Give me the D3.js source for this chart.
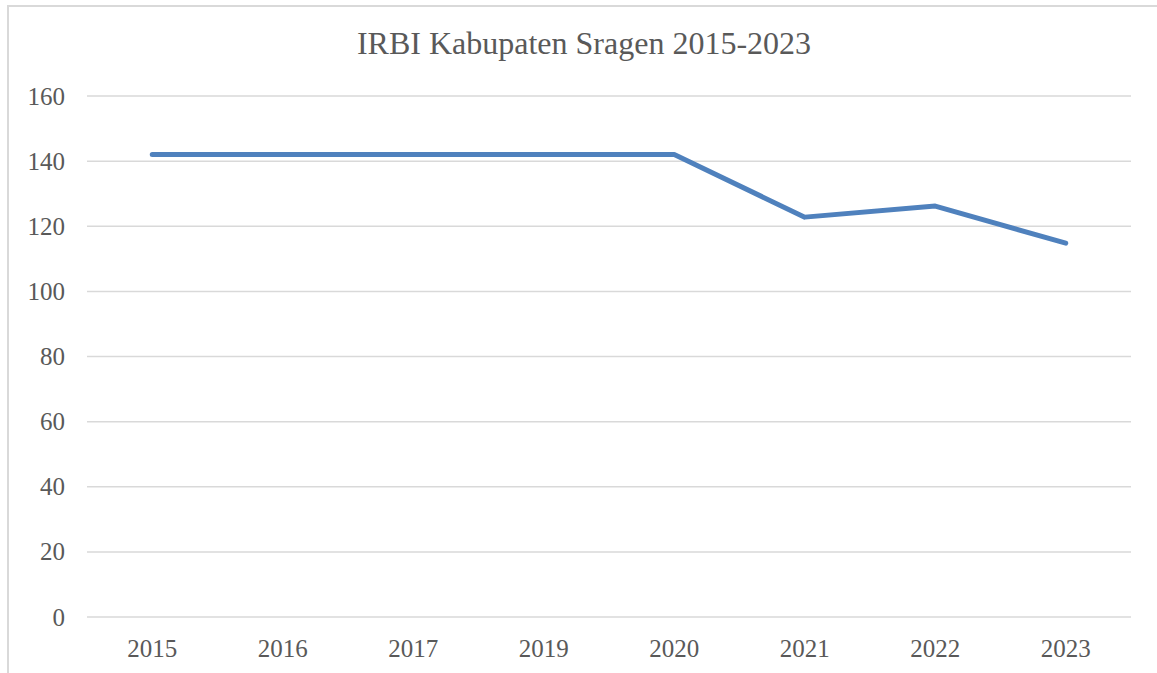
<!DOCTYPE html>
<html>
<head>
<meta charset="utf-8">
<script src="https://cdn.jsdelivr.net/npm/d3@7"></script>
<style>
  body { margin: 0; background: #fff; }
  svg { display: block; }
</style>
</head>
<body>
<svg id="chart"></svg>
<script>
var years = ["2015", "2016", "2017", "2019", "2020", "2021", "2022", "2023"];
var irbi = [142, 142, 142, 142, 142, 122.8, 126.2, 114.8];
var yTicks = [0, 20, 40, 60, 80, 100, 120, 140, 160];
var title = "IRBI Kabupaten Sragen 2015-2023";

var width = 1157;
var height = 673;

var margin = {
  top: 96,
  right: 26,
  bottom: 56,
  left: 87
}

var svg = d3.select("#chart")
  .attr("width", width)
  .attr("height", height);

// chart frame (only top and left edges show in the picture)
svg.append("path")
  .attr("d", "M8," + height + "V6H" + width)
  .attr("fill", "none")
  .attr("stroke", "#d9d9d9")
  .attr("stroke-width", 2);

var x = d3.scaleBand()
  .domain(years)
  .range([margin.left, width - margin.right])
  .padding(0);

var y = d3.scaleLinear()
  .domain([0, 160])
  .range([height - margin.bottom, margin.top]);

// gridlines
svg.append("g")
  .selectAll("line")
  .data(yTicks)
  .enter().append("line")
  .attr("x1", margin.left)
  .attr("x2", width - margin.right)
  .attr("y1", function(d) { return y(d); })
  .attr("y2", function(d) { return y(d); })
  .attr("stroke", "#d9d9d9")
  .attr("stroke-width", 1.5);

// y labels
svg.append("g")
  .selectAll("text")
  .data(yTicks)
  .enter().append("text")
  .attr("x", 65)
  .attr("y", function(d) { return y(d); })
  .attr("dy", "0.34em")
  .attr("text-anchor", "end")
  .attr("font-family", "'Liberation Serif', serif")
  .attr("font-size", 25)
  .attr("fill", "#595959")
  .text(function(d) { return d; });

// x labels
svg.append("g")
  .selectAll("text")
  .data(years)
  .enter().append("text")
  .attr("x", function(d) { return x(d) + x.bandwidth() / 2; })
  .attr("y", 657)
  .attr("text-anchor", "middle")
  .attr("font-family", "'Liberation Serif', serif")
  .attr("font-size", 25)
  .attr("fill", "#595959")
  .text(function(d) { return d; });

var line = d3.line()
  .x(function(d, i) { return x(years[i]) + x.bandwidth() / 2; })
  .y(function(d) { return y(d); });

svg.append("path")
  .datum(irbi)
  .attr("d", line)
  .attr("fill", "none")
  .attr("stroke", "#4f81bd")
  .attr("stroke-width", 5)
  .attr("stroke-linecap", "round")
  .attr("stroke-linejoin", "round");

svg.append("text")
  .attr("x", 584)
  .attr("y", 54)
  .attr("text-anchor", "middle")
  .attr("font-family", "'Liberation Serif', serif")
  .attr("font-size", 32)
  .attr("fill", "#595959")
  .text(title);
</script>
</body>
</html>
